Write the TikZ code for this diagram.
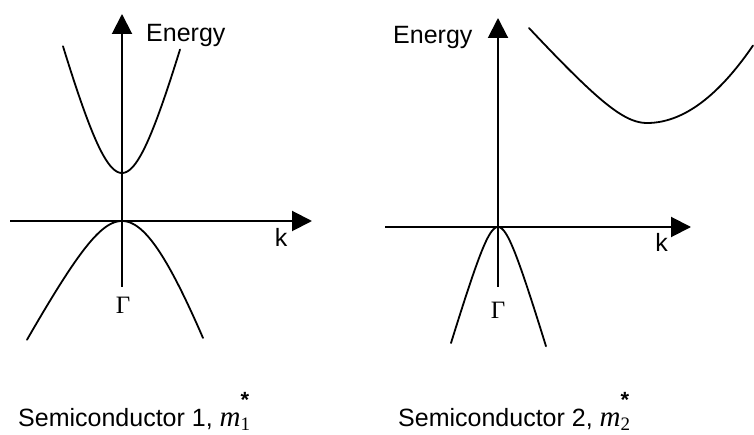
\documentclass[tikz,border=0pt]{standalone}
\usepackage{fontspec}
\setmainfont{Liberation Sans}
\newfontfamily\tnr{Liberation Serif}
\usetikzlibrary{arrows.meta}
\newcommand\mstar[1]{{\tnr\itshape\fontsize{29}{32}\selectfont m}\rlap{\raisebox{-4pt}{\tnr\fontsize{19}{22}\selectfont #1}}\raisebox{19pt}{\fontsize{22}{24}\selectfont\bfseries *}}
\begin{document}
\begin{tikzpicture}[x=1pt,y=-1pt,
  axis/.style={line width=2pt,-{Triangle[length=20pt,width=20pt]}},
  band/.style={line width=1.8pt, line cap=round, line join=round},
  lbl/.style={font=\fontsize{25}{30}\selectfont, inner sep=0pt},
  gam/.style={font=\tnr\fontsize{25}{30}\selectfont, inner sep=0pt}]
\useasboundingbox (0,0) rectangle (754,435);
% left panel axes
\coordinate (lvb) at (122,287);
\coordinate (lvt) at (122,14);
\coordinate (lhl) at (10,221);
\coordinate (lhr) at (312,221);
\draw[axis] (lvb) -- (lvt);
\draw[axis] (lhl) -- (lhr);
% right panel axes
\coordinate (rvb) at (498,287);
\coordinate (rvt) at (498,18);
\coordinate (rhl) at (385,227);
\coordinate (rhr) at (691,227);
\draw[axis] (rvb) -- (rvt);
\draw[axis] (rhl) -- (rhr);
% left bands
\draw[band] plot[domain=-59:58, samples=80] ({122+\x},{173-132*(sqrt(1+(\x/35)^2)-1)});
\draw[band] plot[domain=-95:0, samples=60] ({122+\x},{221+75.3*(sqrt(1+(\x/40)^2)-1)})
  -- plot[domain=0:81, samples=60] ({122+\x},{221+172*(sqrt(1+(\x/60)^2)-1)});
% right bands
\draw[band] plot[domain=-118:0, samples=70] ({647+\x},{123-44.9*(sqrt(1+(\x/40)^2)-1)})
  -- plot[domain=0:106, samples=60] ({647+\x},{123-0.0069*\x*\x});
\draw[band] plot[domain=-47:48, samples=90] ({498+\x},{227+50.7*(sqrt(1+(\x/15)^2)-1)});
% labels
\node[lbl, anchor=base west] (en1) at (146,42) {Energy};
\node[lbl, anchor=base west] (en2) at (393,44) {Energy};
\node[lbl, anchor=base] (k1) at (281,247) {k};
\node[lbl, anchor=base] (k2) at (661.5,252) {k};
\node[gam, anchor=base] (g1) at (123,313) {Γ};
\node[gam, anchor=base] (g2) at (498,318) {Γ};
\node[lbl, anchor=base west] (s1) at (18,426) {Semiconductor 1, \mstar{1}};
\node[lbl, anchor=base west] (s2) at (398,426) {Semiconductor 2, \mstar{2}};
\end{tikzpicture}
\end{document}
